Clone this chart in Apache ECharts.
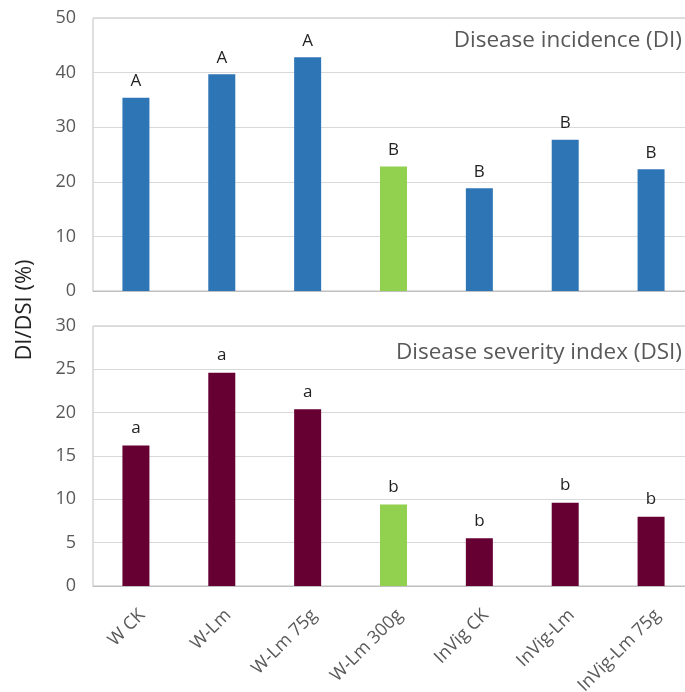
<!DOCTYPE html>
<html>
<head>
<meta charset="utf-8">
<script src="https://cdn.jsdelivr.net/npm/echarts@6/dist/echarts.min.js"></script>
<style>html,body{margin:0;padding:0;background:#fff}#c{width:685px;height:692px}</style>
</head>
<body>
<div id="c"></div>
<script>
const categories = ["W CK", "W-Lm", "W-Lm 75g", "W-Lm 300g", "InVig CK", "InVig-Lm", "InVig-Lm 75g"];
const diValues = [35.4, 39.7, 42.8, 22.8, 18.8, 27.7, 22.3];
const diLetters = ["A", "A", "A", "B", "B", "B", "B"];
const dsiValues = [16.2, 24.6, 20.4, 9.4, 5.5, 9.6, 8.0];
const dsiLetters = ["a", "a", "a", "b", "b", "b", "b"];
const highlightCategory = "W-Lm 300g";
const diTicks = {min: 0, max: 50, interval: 10};
const dsiTicks = {min: 0, max: 30, interval: 5};

const FONT = '"Open Sans", "Noto Sans", sans-serif';
const BLUE = '#2e75b6', GREEN = '#92d050', MAROON = '#660033';

function items(vals, base) {
  return vals.map((v, i) => ({
    value: v,
    itemStyle: {color: categories[i] === highlightCategory ? GREEN : base}
  }));
}

const chart = echarts.init(document.getElementById('c'), null, {renderer: 'canvas'});
const gridCommon = {left: 93, width: 601, show: true, borderColor: '#bfbfbf', borderWidth: 1,
  backgroundColor: 'transparent', containLabel: false, outerBoundsMode: 'none'};
const yCommon = {
  type: 'value',
  axisLine: {show: false},
  axisTick: {show: false},
  axisLabel: {color: '#595959', fontSize: 18, fontFamily: FONT, margin: 17},
  splitLine: {lineStyle: {color: '#d9d9d9', width: 1}}
};
const xCommon = {
  type: 'category',
  data: categories,
  axisTick: {show: false},
  axisLine: {lineStyle: {color: '#bfbfbf', width: 1}},
};

chart.setOption({
  animation: false,
  grid: [
    Object.assign({top: 18, height: 273}, gridCommon),
    Object.assign({top: 326, height: 260}, gridCommon)
  ],
  xAxis: [
    Object.assign({gridIndex: 0, axisLabel: {show: false}}, xCommon),
    Object.assign({gridIndex: 1, axisLabel: {rotate: 45, color: '#595959', fontSize: 18, fontFamily: FONT, margin: 20, interval: 0, verticalAlign: 'top'}}, xCommon)
  ],
  yAxis: [
    Object.assign({gridIndex: 0}, yCommon, diTicks),
    Object.assign({gridIndex: 1}, yCommon, dsiTicks)
  ],
  graphic: [
    {type: 'text', x: 682, y: 41, style: {text: 'Disease incidence (DI)', fill: '#595959', font: '22.5px ' + FONT, align: 'right', verticalAlign: 'middle'}},
    {type: 'text', x: 682, y: 353, style: {text: 'Disease severity index (DSI)', fill: '#595959', font: '22.5px ' + FONT, align: 'right', verticalAlign: 'middle'}},
    {type: 'text', x: 25, y: 310, rotation: Math.PI / 2, style: {text: 'DI/DSI (%)', fill: '#222', font: '22px ' + FONT, align: 'center', verticalAlign: 'middle'}}
  ],
  series: [
    {
      type: 'bar', xAxisIndex: 0, yAxisIndex: 0, barWidth: 27,
      data: items(diValues, BLUE),
      label: {show: true, position: 'top', distance: 8, color: '#222', fontSize: 17, fontFamily: FONT,
        formatter: p => diLetters[p.dataIndex]}
    },
    {
      type: 'bar', xAxisIndex: 1, yAxisIndex: 1, barWidth: 27,
      data: items(dsiValues, MAROON),
      label: {show: true, position: 'top', distance: 9, color: '#222', fontSize: 17, fontFamily: FONT,
        formatter: p => dsiLetters[p.dataIndex]}
    }
  ]
});
</script>
</body>
</html>
